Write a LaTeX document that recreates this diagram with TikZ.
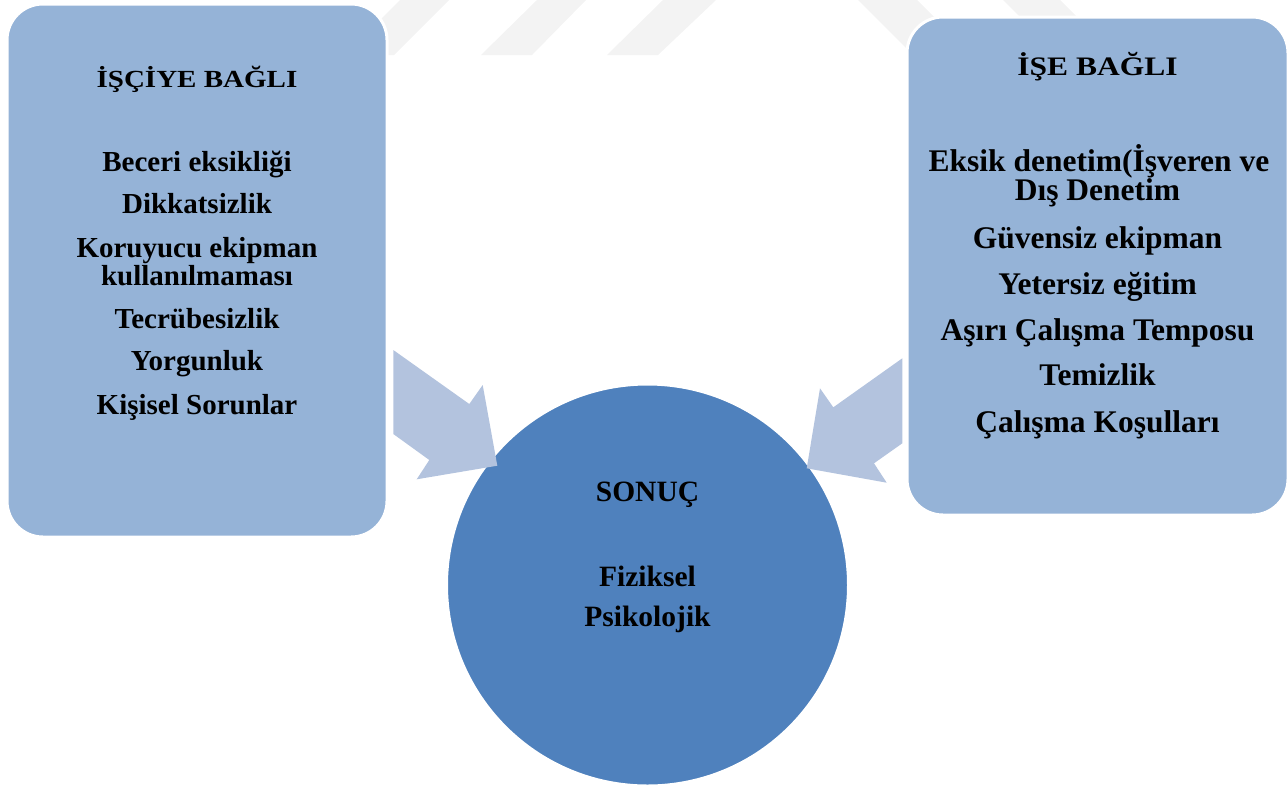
\documentclass[tikz,border=0pt]{standalone}
\usepackage{fontspec}
\setmainfont{Liberation Serif}
\usepackage{graphicx}
\definecolor{boxblue}{HTML}{95B3D7}
\definecolor{circblue}{HTML}{4F81BD}
\definecolor{arrblue}{HTML}{B3C3DE}
\definecolor{wmark}{HTML}{F3F3F3}
\tikzset{
  sidebox/.style={rounded corners=36pt, fill=boxblue, draw=white, line width=3pt, inner sep=0pt},
  rescirc/.style={circle, fill=circblue, draw=white, line width=2pt, inner sep=0pt, minimum size=401pt},
  bodyL/.style={anchor=base, inner sep=0pt, font=\bfseries\fontsize{29}{28}\selectfont},
  bodyR/.style={anchor=base, inner sep=0pt, font=\bfseries\fontsize{31.5}{30}\selectfont},
  titleL/.style={anchor=base, inner sep=0pt, font=\bfseries\fontsize{24.6}{26}\selectfont},
  titleR/.style={anchor=base, inner sep=0pt, font=\bfseries\fontsize{26.7}{28}\selectfont},
  bodyC/.style={anchor=base, inner sep=0pt, font=\bfseries\fontsize{29.5}{30}\selectfont},
  bigarrow/.style={fill=arrblue},
  wm/.style={fill=wmark}
}
\begin{document}
\begin{tikzpicture}[x=1pt,y=-1pt]
\useasboundingbox (0,0) rectangle (1288,788);
% faint watermark stripes
\fill[wm] (400,0) -- (449,0) -- (394,55) -- (345,55) -- cycle;
\fill[wm] (537,0) -- (586,0) -- (532,55) -- (481,55) -- cycle;
\fill[wm] (663,0) -- (716,0) -- (658,55) -- (607,55) -- cycle;
\fill[wm] (858,0) -- (917,0) -- (975,58) -- (916,58) -- cycle;
\fill[wm] (1003,0) -- (1060,0) -- (1110,50) -- (1053,50) -- cycle;
% main shapes
\node[sidebox, minimum width=380pt, minimum height=533pt] (lbox) at (197,270.5) {};
\node[sidebox, minimum width=381pt, minimum height=498pt] (rbox) at (1097.5,266) {};
\node[rescirc] (res) at (647.5,585) {};
% block arrows
\coordinate (la1) at (393.3,350);
\fill[bigarrow] (la1) -- (469.3,404) -- (482.7,385) -- (497.3,465.7) -- (416.7,479.3) -- (429.3,460) -- (393.3,434) -- cycle;
\coordinate (ra1) at (902.3,358.3);
\fill[bigarrow] (ra1) -- (833.3,407.3) -- (820,388.3) -- (806.7,468.3) -- (886.7,482.7) -- (874,463.3) -- (902.3,443.3) -- cycle;
% left texts
\node[titleL] (lt) at (197,87.3) {\scalebox{1.18}[1]{İŞÇİYE BAĞLI}};
\node[bodyL] (l1) at (197,171) {Beceri eksikliği};
\node[bodyL] (l2) at (197,213) {Dikkatsizlik};
\node[bodyL] (l3) at (197,257) {Koruyucu ekipman};
\node[bodyL] (l4) at (197,285) {kullanılmaması};
\node[bodyL] (l5) at (197,328) {Tecrübesizlik};
\node[bodyL] (l6) at (197,370) {Yorgunluk};
\node[bodyL] (l7) at (197,414) {Kişisel Sorunlar};
% right texts
\node[titleR] (rt) at (1097.5,75) {\scalebox{1.18}[1]{İŞE BAĞLI}};
\node[bodyR] (r1) at (1099,171) {Eksik denetim(İşveren ve};
\node[bodyR] (r2) at (1097.5,200) {Dış Denetim};
\node[bodyR] (r3) at (1097.5,248) {Güvensiz ekipman};
\node[bodyR] (r4) at (1097.5,294) {Yetersiz eğitim};
\node[bodyR] (r5) at (1097.5,340) {Aşırı Çalışma Temposu};
\node[bodyR] (r6) at (1097.5,385) {Temizlik};
\node[bodyR] (r7) at (1097.5,432) {Çalışma Koşulları};
% circle texts
\node[bodyC] (c0) at (647.5,501.7) {SONUÇ};
\node[bodyC] (c1) at (647.5,586) {Fiziksel};
\node[bodyC] (c2) at (647.5,626.7) {Psikolojik};
\end{tikzpicture}
\end{document}
